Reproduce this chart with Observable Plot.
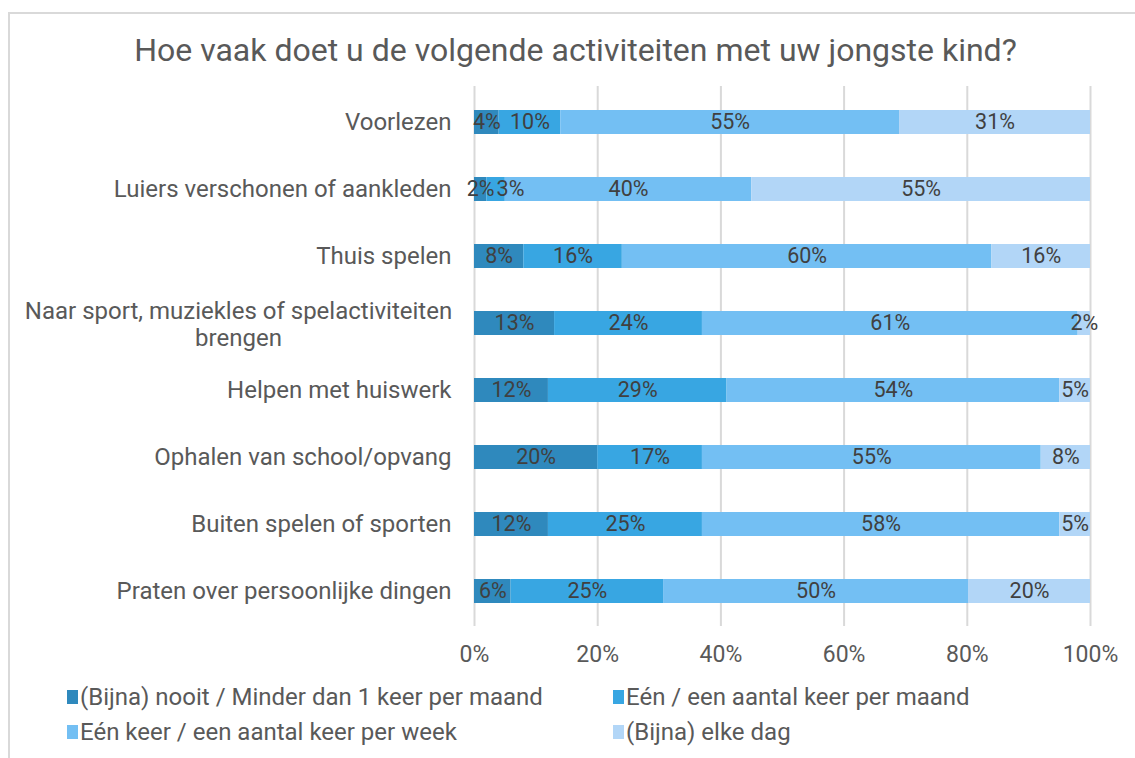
<!DOCTYPE html>
<html>
<head>
<meta charset="utf-8">
<script src="https://cdn.jsdelivr.net/npm/d3@7"></script>
<script src="https://cdn.jsdelivr.net/npm/@observablehq/plot@0.6"></script>
<style>
  html, body { margin: 0; padding: 0; background: #fff; overflow: hidden; }
  body { width: 1135px; height: 758px; position: relative; font-family: Roboto, "Noto Sans", sans-serif; }
  #frame { position: absolute; left: 8px; top: 12px; width: 2000px; height: 2000px; border-left: 2px solid #d9d9d9; border-top: 2px solid #d9d9d9; }
  #title { position: absolute; left: 8px; width: 1135px; top: 34px; text-align: center; font-size: 32px; line-height: 1; color: #595959; }
  #chart { position: absolute; left: 0; top: 80px; }
  .leg { position: absolute; font-size: 24px; line-height: 1; color: #595959; display: flex; align-items: center; white-space: nowrap; }
  .sw { width: 11px; height: 14px; margin-right: 2px; display: inline-block; }
</style>
</head>
<body>
<div id="frame"></div>
<div id="title"></div>
<div id="chart"></div>
<div id="legend"></div>
<script>
const title = "Hoe vaak doet u de volgende activiteiten met uw jongste kind?";
const categories = [
  "Voorlezen",
  "Luiers verschonen of aankleden",
  "Thuis spelen",
  "Naar sport, muziekles of spelactiviteiten brengen",
  "Helpen met huiswerk",
  "Ophalen van school/opvang",
  "Buiten spelen of sporten",
  "Praten over persoonlijke dingen"
];
const categoryLabels = [
  "Voorlezen",
  "Luiers verschonen of aankleden",
  "Thuis spelen",
  "Naar sport, muziekles of spelactiviteiten\nbrengen",
  "Helpen met huiswerk",
  "Ophalen van school/opvang",
  "Buiten spelen of sporten",
  "Praten over persoonlijke dingen"
];
const seriesNames = [
  "(Bijna) nooit / Minder dan 1 keer per maand",
  "Eén / een aantal keer per maand",
  "Eén keer / een aantal keer per week",
  "(Bijna) elke dag"
];
const colors = ["#2f89bd", "#38a6e2", "#73bff3", "#b2d6f7"];
const nooit = [4, 2, 8, 13, 12, 20, 12, 6];
const perMaand = [10, 3, 16, 24, 29, 17, 25, 25];
const perWeek = [55, 40, 60, 61, 54, 55, 58, 50];
const elkeDag = [31, 55, 16, 2, 5, 8, 5, 20];
const xTicks = [0, 0.2, 0.4, 0.6, 0.8, 1];

const W = 1135, ML = 474, MR = 45;
const plotWidth = W - ML - MR;
const labelFont = 21.5;

const seriesValues = [nooit, perMaand, perWeek, elkeDag];
const table = [];
seriesNames.forEach((s, si) => {
  categories.forEach((c, ci) => {
    table.push({category: c, series: s, order: si, value: seriesValues[si][ci]});
  });
});

// label positions: segment midpoints, nudged right when they would collide (as the original does)
const ctx = document.createElement("canvas").getContext("2d");
ctx.font = `${labelFont}px Roboto`;
const labels = [];
categories.forEach((c, ci) => {
  const vals = seriesValues.map(v => v[ci]);
  const total = d3.sum(vals);
  let cum = 0, prevRight = -Infinity;
  vals.forEach((v, si) => {
    const text = v + "%";
    const half = ctx.measureText(text).width / 2 / plotWidth;
    let mid = (cum + v / 2) / total;
    if (mid - half < prevRight + 2 / plotWidth) mid = prevRight + 2 / plotWidth + half;
    prevRight = mid + half;
    cum += v;
    labels.push({category: c, x: mid, text});
  });
});

const labelOf = new Map(categories.map((c, i) => [c, categoryLabels[i]]));
const wrapped = categories.filter(c => labelOf.get(c).includes("\n"));
const single = categories.filter(c => !labelOf.get(c).includes("\n"));

document.getElementById("title").textContent = title;

const stackOpts = {x: "value", y: "category", z: "series", order: seriesNames, offset: "normalize"};

const chart = Plot.plot({
  width: W,
  height: 620,
  marginLeft: ML,
  marginRight: MR,
  marginTop: 6,
  marginBottom: 74,
  style: {fontFamily: "Roboto, 'Noto Sans', sans-serif", background: "transparent"},
  x: {domain: [0, 1], axis: null},
  y: {domain: categories, paddingInner: 0.644, paddingOuter: 0.322, axis: null},
  color: {domain: seriesNames, range: colors},
  marks: [
    Plot.ruleX(xTicks, {stroke: "#d9d9d9", strokeWidth: 2}),
    Plot.barX(table, Plot.stackX({...stackOpts, fill: "series"})),
    Plot.text(labels, {x: "x", y: "category", text: "text", fill: "#404040", fontSize: labelFont}),
    Plot.axisX({ticks: xTicks, tickFormat: d => Math.round(d * 100) + "%", tickSize: 0, tickPadding: 19, fontSize: 23, color: "#595959", label: null}),
    Plot.text(single, {y: d => d, text: d => labelOf.get(d), frameAnchor: "left", textAnchor: "end", dx: -23, fontSize: 24, fill: "#595959"}),
    Plot.text(wrapped, {y: d => d, text: d => labelOf.get(d), frameAnchor: "left", textAnchor: "middle", dx: -236, lineHeight: 1.13, fontSize: 24, fill: "#595959"})
  ]
});
document.getElementById("chart").appendChild(chart);

const legendPos = [[67, 698], [613, 698], [67, 733], [613, 733]];
const legend = document.getElementById("legend");
seriesNames.forEach((s, i) => {
  const el = document.createElement("div");
  el.className = "leg";
  el.style.left = legendPos[i][0] + "px";
  el.style.top = (legendPos[i][1] - 13) + "px";
  el.innerHTML = `<span class="sw" style="background:${colors[i]}"></span><span>${s}</span>`;
  legend.appendChild(el);
});
</script>
</body>
</html>
